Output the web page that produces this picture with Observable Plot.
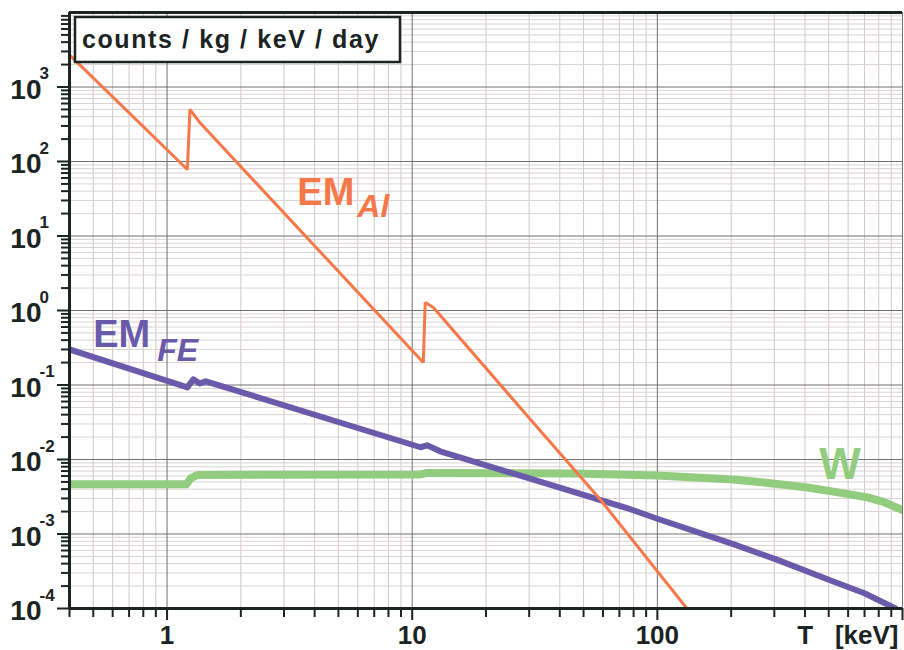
<!DOCTYPE html>
<html><head><meta charset="utf-8">
<script src="https://cdn.jsdelivr.net/npm/d3@7"></script>
<script src="https://cdn.jsdelivr.net/npm/@observablehq/plot@0.6"></script>
<style>
body{margin:0;background:#fff}
#chart svg{display:block}
</style>
</head><body><div id="chart"></div>
<script>
// ---- data ----
const emAlT = [0.4, 1.21, 1.24, 1.36, 11.1, 11.3, 12.2, 30, 58.5, 132];
const emAlV = [2700, 78, 500, 333, 0.20, 1.28, 1.1, 0.036, 2.9e-3, 1e-4];

const emFeT = [0.4, 1.21, 1.28, 1.36, 1.44, 10.8, 11.5, 13.0, 77.6, 100, 204, 309, 522, 700, 937];
const emFeV = [0.30, 0.093, 0.119, 0.105, 0.112, 0.0146, 0.0155, 0.0129, 2.15e-3, 1.6e-3, 7.3e-4, 4.5e-4, 2.3e-4, 1.6e-4, 1.0e-4];

const wT = [0.4, 1.2, 1.25, 1.33, 10.8, 11.5, 47, 100, 204, 309, 409, 522, 719, 836, 1000];
const wV = [4.65e-3, 4.65e-3, 5.6e-3, 6.2e-3, 6.3e-3, 6.6e-3, 6.5e-3, 6.1e-3, 5.4e-3, 4.7e-3, 4.2e-3, 3.7e-3, 3.1e-3, 2.7e-3, 2.1e-3];

const xLabelVals = [1, 10, 100];
const xLabelText = ["1", "10", "100"];
const yLabelVals = [1e-4, 1e-3, 1e-2, 1e-1, 1e0, 1e1, 1e2, 1e3];
const yLabelExp = ["-4", "-3", "-2", "-1", "0", "1", "2", "3"];
const xMajor = [1, 10, 100, 1000];
const yMajor = [1e-4, 1e-3, 1e-2, 1e-1, 1e0, 1e1, 1e2, 1e3, 1e4];
const xDecades = [0.1, 1, 10, 100];
const yDecades = [1e-4, 1e-3, 1e-2, 1e-1, 1e0, 1e1, 1e2, 1e3];
const multipliers = [2, 3, 4, 5, 6, 7, 8, 9];
const xMinor = xDecades.flatMap(d => multipliers.map(m => +(d * m).toPrecision(3))).filter(v => v >= 0.4 && v <= 1000);
const yMinor = yDecades.flatMap(d => multipliers.map(m => +(d * m).toPrecision(3)));

const axisTitle = "counts / kg / keV / day";
const xTitle = "T\u00a0\u00a0\u00a0[keV]";

// ---- styles ----
const cAl = "#f4784a", cFe = "#6a5aaa", cW = "#92cc7f", ink = "#1b2323";
const fontSans = "'Liberation Sans', Arial, sans-serif";

const toRows = (T, V) => T.map((t, i) => ({t, v: V[i]}));

function titleBox(index, scales, values, dim) {
  const g = d3.create("svg:g");
  g.append("rect")
    .attr("x", dim.marginLeft + 6).attr("y", dim.marginTop + 5)
    .attr("width", 325).attr("height", 45)
    .attr("fill", "#fff").attr("stroke", ink).attr("stroke-width", 2.5);
  g.append("text")
    .attr("x", dim.marginLeft + 13).attr("y", dim.marginTop + 36)
    .attr("text-anchor", "start")
    .attr("font-family", fontSans).attr("font-weight", "bold")
    .attr("font-size", 25).attr("letter-spacing", "1.6px")
    .attr("fill", ink).text(axisTitle);
  return g.node();
}

const plot = Plot.plot({
  width: 904, height: 650,
  marginLeft: 69, marginRight: 2, marginTop: 12, marginBottom: 42,
  x: {type: "log", domain: [0.4, 1000], label: null},
  y: {type: "log", domain: [1e-4, 1e4], label: null},
  style: {fontFamily: fontSans, background: "#fff"},
  marks: [
    Plot.ruleX(xMinor, {stroke: "#d2c8c8", strokeWidth: 1}),
    Plot.ruleY(yMinor, {stroke: "#d9d3d3", strokeWidth: 1}),
    Plot.ruleX(xMajor, {stroke: "#707070", strokeWidth: 1}),
    Plot.ruleY(yMajor, {stroke: "#707070", strokeWidth: 1}),

    Plot.line(toRows(wT, wV), {x: "t", y: "v", stroke: cW, strokeWidth: 8, clip: true}),
    Plot.line(toRows(emFeT, emFeV), {x: "t", y: "v", stroke: cFe, strokeWidth: 6, clip: true}),
    Plot.line(toRows(emAlT, emAlV), {x: "t", y: "v", stroke: cAl, strokeWidth: 3, strokeLinejoin: "miter", clip: true}),

    // frame / axes lines
    Plot.ruleX([0.4], {stroke: ink, strokeWidth: 3}),
    Plot.ruleY([1e-4, 1e4], {stroke: ink, strokeWidth: 3}),

    // ticks
    Plot.axisX({ticks: xMinor, tickSize: 9, tickFormat: () => "", stroke: ink, strokeWidth: 2, label: null}),
    Plot.axisX({ticks: xMajor, tickSize: 12, tickFormat: () => "", stroke: ink, strokeWidth: 2, label: null}),
    Plot.axisY({ticks: yMinor, tickSize: 8, tickFormat: () => "", stroke: ink, strokeWidth: 2, label: null}),
    Plot.axisY({ticks: yMajor.slice(0, 8), tickSize: 12, tickFormat: () => "", stroke: ink, strokeWidth: 2, label: null}),

    // tick labels
    Plot.text(xLabelVals, {x: d => d, text: (d, i) => xLabelText[i], frameAnchor: "bottom", dy: 35, lineAnchor: "bottom",
      fontSize: 26, fontWeight: "bold", fill: ink}),
    Plot.text(yLabelVals, {y: d => d, text: () => "10", frameAnchor: "left", dx: -28, dy: 3, textAnchor: "end", lineAnchor: "middle",
      fontSize: 28, fontWeight: "bold", fill: ink}),
    Plot.text(yLabelVals, {y: d => d, text: (d, i) => yLabelExp[i], frameAnchor: "left", dx: -30, dy: -8, textAnchor: "start", lineAnchor: "bottom",
      fontSize: 17, fontWeight: "bold", fill: ink}),
    Plot.text([xTitle], {frameAnchor: "bottom-right", dx: -4, dy: 35, textAnchor: "end", lineAnchor: "bottom",
      fontSize: 26, fontWeight: "bold", fill: ink}),

    // series labels
    Plot.text(["EM"], {x: () => 3.4, y: () => 26.4, textAnchor: "start", lineAnchor: "bottom", fontSize: 38, fontWeight: "bold", fill: cAl}),
    Plot.text(["Al"], {x: () => 3.4, y: () => 26.4, dx: 60, dy: 12, textAnchor: "start", lineAnchor: "bottom", fontSize: 32, fontWeight: "bold", fontStyle: "italic", fill: cAl}),
    Plot.text(["EM"], {x: () => 0.5, y: () => 0.319, textAnchor: "start", lineAnchor: "bottom", fontSize: 38, fontWeight: "bold", fill: cFe}),
    Plot.text(["FE"], {x: () => 0.5, y: () => 0.319, dx: 64, dy: 14, textAnchor: "start", lineAnchor: "bottom", fontSize: 32, fontWeight: "bold", fontStyle: "italic", fill: cFe}),
    Plot.text(["W"], {x: () => 458, y: () => 5.4e-3, textAnchor: "start", lineAnchor: "bottom", fontSize: 44, fontWeight: "bold", fill: cW}),

    titleBox
  ]
});
document.getElementById("chart").append(plot);
</script>
</body></html>
